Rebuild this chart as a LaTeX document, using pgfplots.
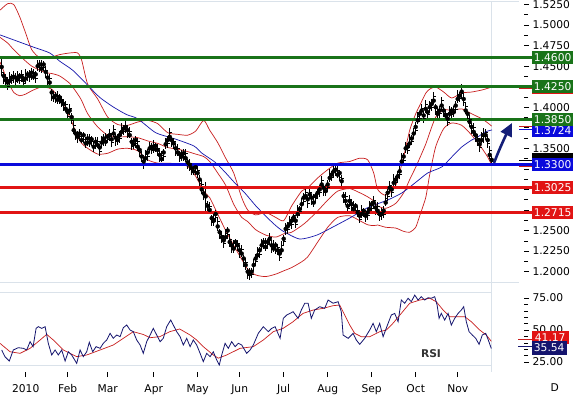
\documentclass[border=0pt]{standalone}
\usepackage{pgfplots}
\usepackage{pgfplotstable}
\pgfplotsset{compat=1.18}
\usepackage{fontspec}
\setmainfont{DejaVu Sans}
\usetikzlibrary{arrows.meta}
\definecolor{lvgreen}{RGB}{25,115,25}
\definecolor{lvblue}{RGB}{10,10,220}
\definecolor{lvred}{RGB}{225,20,20}
\definecolor{bbred}{RGB}{200,30,30}
\definecolor{mablue}{RGB}{20,20,170}
\definecolor{rsinavy}{RGB}{20,20,110}
\definecolor{gridc}{RGB}{218,226,234}
\definecolor{arrowc}{RGB}{20,30,120}
\newcommand{\tf}{\fontsize{10.7}{12}\selectfont}

\pgfplotstableread{
i m up dn c
-12 1.449 0.011 0.011 -0.007
-11 1.438 0.004 0.010 -0.005
-10 1.433 0.008 0.006 0.003
-9 1.430 0.005 0.009 -0.004
-8 1.432 0.011 0.005 0.006
-7 1.436 0.004 0.008 -0.003
-6 1.437 0.007 0.007 0.002
-5 1.436 0.006 0.009 -0.004
-4 1.434 0.010 0.004 0.005
-3 1.438 0.004 0.010 -0.005
-2 1.437 0.008 0.006 0.003
-1 1.433 0.005 0.009 -0.004
0 1.435 0.011 0.005 0.006
1 1.440 0.004 0.008 -0.003
2 1.438 0.007 0.007 0.002
3 1.442 0.006 0.009 -0.004
4 1.437 0.010 0.004 0.005
5 1.440 0.004 0.010 -0.005
6 1.450 0.008 0.006 0.003
7 1.452 0.005 0.009 -0.004
8 1.447 0.011 0.005 0.006
9 1.452 0.004 0.008 -0.003
10 1.443 0.007 0.007 0.002
11 1.436 0.006 0.009 -0.004
12 1.430 0.010 0.004 0.005
13 1.418 0.004 0.010 -0.005
14 1.412 0.008 0.006 0.003
15 1.414 0.005 0.009 -0.004
16 1.409 0.011 0.005 0.006
17 1.412 0.004 0.008 -0.003
18 1.407 0.007 0.007 0.002
19 1.404 0.006 0.009 -0.004
20 1.398 0.010 0.004 0.005
21 1.394 0.004 0.010 -0.005
22 1.396 0.008 0.006 0.003
23 1.388 0.005 0.009 -0.004
24 1.372 0.011 0.005 0.006
25 1.368 0.004 0.008 -0.003
26 1.364 0.007 0.007 0.002
27 1.368 0.006 0.009 -0.004
28 1.360 0.010 0.004 0.005
29 1.366 0.004 0.010 -0.005
30 1.356 0.008 0.006 0.003
31 1.362 0.005 0.009 -0.004
32 1.357 0.011 0.005 0.006
33 1.361 0.004 0.008 -0.003
34 1.352 0.007 0.007 0.002
35 1.358 0.006 0.009 -0.004
36 1.354 0.010 0.004 0.005
37 1.351 0.004 0.010 -0.005
38 1.357 0.008 0.006 0.003
39 1.362 0.005 0.009 -0.004
40 1.358 0.011 0.005 0.006
41 1.364 0.004 0.008 -0.003
42 1.366 0.007 0.007 0.002
43 1.361 0.006 0.009 -0.004
44 1.368 0.010 0.004 0.005
45 1.363 0.004 0.010 -0.005
46 1.360 0.008 0.006 0.003
47 1.366 0.005 0.009 -0.004
48 1.370 0.011 0.005 0.006
49 1.374 0.004 0.008 -0.003
50 1.376 0.007 0.007 0.002
51 1.372 0.006 0.009 -0.004
52 1.366 0.010 0.004 0.005
53 1.358 0.004 0.010 -0.005
54 1.355 0.008 0.006 0.003
55 1.360 0.005 0.009 -0.004
56 1.352 0.011 0.005 0.006
57 1.348 0.004 0.008 -0.003
58 1.340 0.007 0.007 0.002
59 1.334 0.006 0.009 0.002
60 1.338 0.010 0.004 0.005
61 1.345 0.004 0.010 -0.005
62 1.350 0.008 0.006 0.003
63 1.352 0.005 0.009 -0.004
64 1.349 0.011 0.005 0.006
65 1.353 0.004 0.008 -0.003
66 1.348 0.007 0.007 0.002
67 1.342 0.006 0.009 -0.004
68 1.337 0.010 0.004 0.005
69 1.345 0.004 0.010 -0.005
70 1.355 0.008 0.006 0.003
71 1.360 0.005 0.009 -0.004
72 1.364 0.011 0.005 0.006
73 1.360 0.004 0.008 -0.003
74 1.356 0.007 0.007 0.002
75 1.350 0.006 0.009 -0.004
76 1.345 0.010 0.004 0.005
77 1.343 0.004 0.010 -0.005
78 1.340 0.008 0.006 0.003
79 1.344 0.005 0.009 -0.004
80 1.338 0.011 0.005 0.006
81 1.333 0.004 0.008 -0.003
82 1.330 0.007 0.007 0.002
83 1.326 0.006 0.009 -0.004
84 1.322 0.010 0.004 0.005
85 1.327 0.004 0.010 -0.005
86 1.320 0.008 0.006 0.003
87 1.312 0.005 0.009 -0.004
88 1.300 0.011 0.005 0.006
89 1.295 0.004 0.008 -0.003
90 1.2915 0.0175 0.0175 -0.008
91 1.280 0.006 0.009 -0.004
92 1.275 0.010 0.004 0.005
93 1.265 0.004 0.010 -0.005
94 1.262 0.008 0.006 0.003
95 1.270 0.005 0.009 -0.004
96 1.255 0.011 0.005 0.006
97 1.248 0.004 0.008 -0.003
98 1.242 0.007 0.007 0.002
99 1.238 0.006 0.009 -0.004
100 1.242 0.010 0.004 0.005
101 1.250 0.004 0.010 -0.005
102 1.236 0.008 0.006 0.003
103 1.232 0.005 0.009 -0.004
104 1.228 0.011 0.005 0.006
105 1.236 0.004 0.008 -0.003
106 1.232 0.007 0.007 0.002
107 1.226 0.006 0.009 -0.004
108 1.222 0.010 0.004 0.005
109 1.216 0.004 0.010 -0.005
110 1.208 0.008 0.006 0.003
111 1.200 0.005 0.009 -0.004
112 1.197 0.007 0.007 0.003
113 1.200 0.004 0.008 -0.003
114 1.208 0.007 0.007 0.002
115 1.216 0.006 0.009 -0.004
116 1.220 0.010 0.004 0.005
117 1.226 0.004 0.010 -0.005
118 1.232 0.008 0.006 0.003
119 1.236 0.005 0.009 -0.004
120 1.230 0.011 0.005 0.006
121 1.236 0.004 0.008 -0.003
122 1.240 0.007 0.007 0.002
123 1.232 0.006 0.009 -0.004
124 1.228 0.010 0.004 0.005
125 1.232 0.004 0.010 -0.005
126 1.226 0.008 0.006 0.003
127 1.222 0.005 0.009 -0.004
128 1.226 0.011 0.005 0.006
129 1.240 0.004 0.008 -0.003
130 1.252 0.007 0.007 0.002
131 1.255 0.006 0.009 -0.004
132 1.258 0.010 0.004 0.005
133 1.262 0.004 0.010 -0.005
134 1.266 0.008 0.006 0.003
135 1.262 0.005 0.009 -0.004
136 1.270 0.011 0.005 0.006
137 1.276 0.004 0.008 -0.003
138 1.282 0.007 0.007 0.002
139 1.290 0.006 0.009 -0.004
140 1.292 0.010 0.004 0.005
141 1.288 0.004 0.010 -0.005
142 1.294 0.008 0.006 0.003
143 1.290 0.005 0.009 -0.004
144 1.284 0.011 0.005 0.006
145 1.292 0.004 0.008 -0.003
146 1.296 0.007 0.007 0.002
147 1.300 0.006 0.009 -0.004
148 1.306 0.010 0.004 0.005
149 1.302 0.004 0.010 -0.005
150 1.298 0.008 0.006 0.003
151 1.306 0.005 0.009 -0.004
152 1.314 0.011 0.005 0.006
153 1.318 0.004 0.008 -0.003
154 1.322 0.007 0.007 0.002
155 1.324 0.008 0.008 0.002
156 1.318 0.010 0.004 0.005
157 1.320 0.004 0.010 -0.005
158 1.310 0.008 0.006 0.003
159 1.292 0.005 0.009 -0.004
160 1.286 0.011 0.005 0.006
161 1.280 0.004 0.008 -0.003
162 1.286 0.007 0.007 0.002
163 1.282 0.006 0.009 -0.004
164 1.276 0.010 0.004 0.005
165 1.280 0.004 0.010 -0.005
166 1.272 0.008 0.006 0.003
167 1.268 0.005 0.009 -0.004
168 1.270 0.011 0.005 0.006
169 1.274 0.004 0.008 -0.003
170 1.268 0.007 0.007 0.002
171 1.272 0.006 0.009 -0.004
172 1.276 0.010 0.004 0.005
173 1.282 0.004 0.010 -0.005
174 1.284 0.008 0.006 0.003
175 1.278 0.005 0.009 -0.004
176 1.274 0.011 0.005 0.006
177 1.270 0.004 0.008 -0.003
178 1.270 0.007 0.007 0.002
179 1.274 0.006 0.009 -0.004
180 1.284 0.010 0.004 0.005
181 1.296 0.004 0.010 -0.005
182 1.302 0.008 0.006 0.003
183 1.300 0.005 0.009 -0.004
184 1.308 0.011 0.005 0.006
185 1.312 0.004 0.008 -0.003
186 1.316 0.007 0.007 0.002
187 1.322 0.006 0.009 -0.004
188 1.334 0.010 0.004 0.005
189 1.340 0.004 0.010 -0.005
190 1.350 0.008 0.006 0.003
191 1.352 0.005 0.009 -0.004
192 1.356 0.011 0.005 0.006
193 1.362 0.004 0.008 -0.003
194 1.368 0.007 0.007 0.002
195 1.376 0.006 0.009 -0.004
196 1.384 0.010 0.004 0.005
197 1.392 0.004 0.010 -0.005
198 1.396 0.008 0.006 0.003
199 1.390 0.005 0.009 -0.004
200 1.398 0.011 0.005 0.006
201 1.394 0.004 0.008 -0.003
202 1.400 0.007 0.007 0.002
203 1.404 0.006 0.009 -0.004
204 1.408 0.010 0.004 0.005
205 1.400 0.004 0.010 -0.005
206 1.392 0.008 0.006 0.003
207 1.396 0.005 0.009 -0.004
208 1.402 0.011 0.005 0.006
209 1.396 0.004 0.008 -0.003
210 1.390 0.007 0.007 0.002
211 1.386 0.006 0.009 -0.004
212 1.392 0.010 0.004 0.005
213 1.396 0.004 0.010 -0.005
214 1.394 0.008 0.006 0.003
215 1.402 0.005 0.009 -0.004
216 1.410 0.011 0.005 0.006
217 1.414 0.004 0.008 -0.003
218 1.419 0.009 0.009 -0.002
219 1.410 0.006 0.009 -0.004
220 1.396 0.010 0.004 0.005
221 1.392 0.004 0.010 -0.005
222 1.382 0.008 0.006 0.003
223 1.376 0.005 0.009 -0.004
224 1.370 0.011 0.005 0.006
225 1.366 0.004 0.008 -0.003
226 1.360 0.007 0.007 0.002
227 1.355 0.006 0.009 -0.004
228 1.360 0.010 0.004 0.005
229 1.366 0.009 0.009 -0.002
230 1.366 0.008 0.006 0.003
231 1.360 0.005 0.009 -0.004
232 1.342 0.011 0.005 0.006
233 1.336 0.005 0.006 -0.002
}\bars

\pgfplotstableread{
i U M L
-12.85 1.518 1.485 1.455
-9 1.526 1.478 1.432
-6 1.525 1.470 1.418
-3 1.510 1.463 1.414
0 1.490 1.456 1.416
3 1.470 1.450 1.420
7 1.460 1.445 1.424
10 1.461 1.442 1.424
13 1.461 1.441 1.422
17 1.464 1.438 1.410
22 1.466 1.429 1.388
26 1.466 1.416 1.364
28 1.457 1.408 1.356
31 1.428 1.392 1.350
36 1.410 1.376 1.343
41 1.388 1.366 1.344
46 1.379 1.364 1.349
51 1.378 1.364 1.350
56 1.382 1.363 1.347
61 1.384 1.359 1.336
66 1.380 1.356 1.332
71 1.369 1.351 1.332
76 1.367 1.349 1.331
81 1.366 1.346 1.328
85 1.371 1.343 1.316
89 1.384 1.340 1.298
92 1.372 1.334 1.290
96 1.357 1.320 1.270
100 1.338 1.305 1.250
104 1.320 1.282 1.232
108 1.290 1.266 1.215
111 1.275 1.261 1.203
115 1.269 1.251 1.196
120 1.272 1.2445 1.194
125 1.266 1.242 1.197
129 1.262 1.246 1.201
133 1.280 1.248 1.205
138 1.298 1.256 1.212
141 1.302 1.262 1.218
146 1.314 1.274 1.236
151 1.324 1.287 1.254
156 1.332 1.298 1.266
162 1.334 1.301 1.268
167 1.338 1.296 1.262
171 1.336 1.291 1.257
174 1.320 1.286 1.256
176 1.300 1.280 1.2567
180 1.293 1.277 1.254
185 1.305 1.283 1.253
189 1.340 1.296 1.249
192 1.372 1.312 1.248
195 1.392 1.327 1.254
197 1.402 1.338 1.268
200 1.417 1.355 1.290
202 1.422 1.369 1.318
205 1.4246 1.388 1.352
209 1.4185 1.397 1.374
213 1.4112 1.396 1.3808
218 1.4173 1.398 1.378
223 1.4185 1.392 1.366
228 1.4209 1.386 1.3504
231 1.423 1.381 1.3394
233 1.4246 1.377 1.3297
}\bands

\pgfplotstableread{
i v
-12.85 1.488
3.65 1.4733
12 1.466
17 1.456
23.5 1.445
30.5 1.428
37 1.412
44 1.400
50.5 1.391
56 1.386
65 1.369
74 1.362
84 1.353
88 1.3443
94.6 1.3333
99.6 1.3212
104.6 1.3078
109.6 1.2956
115.6 1.2786
123.6 1.2591
128.6 1.2494
137 1.2397
145.6 1.2445
153.6 1.2543
162 1.2652
170.6 1.2774
177 1.2835
181 1.2871
188 1.2956
194.6 1.3078
201 1.3200
208 1.3273
213 1.3394
218 1.3516
223 1.3601
226 1.3638
229.6 1.3698
233.15 1.3724
}\ma

\pgfplotstableread{
i v
-12 34.4
-10.4 29.2
-8.2 25.8
-6.2 34.4
-3.7 36.2
-1.2 35.7
0.5 34.4
2.2 40.9
3.7 37
5.2 51.3
6.3 52.6
8 51.3
9.7 52.6
11.3 39.6
13 30.5
14.7 34.4
16.3 30.5
18 34.4
19.7 25.8
21.3 33
23 30.5
25.5 24
27.2 34.4
28.8 29.2
30.5 33
31.8 40.4
33.5 33
35.2 37
37.2 35.7
38.8 39.6
40.5 42.2
42.2 47.4
43.8 43.5
45.5 46.1
47.2 44.8
48.8 51.8
50.5 53.9
52.2 50
53.8 48.7
55.5 42.2
57.2 38.3
58.8 31.8
60.5 40.9
62.2 46.1
63.8 51.3
65.5 46.1
67.2 40.9
68.8 43.5
70.5 52.6
72.5 57.8
73.8 53.9
75.5 48.7
77.2 44.8
78.8 38.3
80.5 43.5
82.2 37
83.8 42.2
85.5 38.3
87.2 31.8
88.8 25.3
90.5 31.8
92.2 29.2
93.8 33
95.5 26.6
96.8 22.7
98 30.5
99.7 39.6
101.3 35.7
103 40.9
104.7 37
106.3 39.6
108 38.3
110.5 31.8
112.2 34.4
113.8 38.3
116.3 47.4
118.8 52.6
121.3 48.7
123 51.3
124.7 52.6
127.2 43.5
128.8 59.1
130.5 61.7
132.2 63
133.7 64.3
136.2 59.1
137.8 65.6
139.5 70.9
141.2 70.9
142.8 59.1
144.5 65.6
147 68.2
149.5 66.9
151.2 73.4
153.7 70.9
156.2 72.1
157.8 64.3
158.7 46.1
161.2 43.5
163.7 47.4
165.3 42.2
167 38.8
169.5 43.5
172 50
173.7 55.2
175.3 48.7
177 55.2
178.7 44.8
181.2 55.2
182.8 61.7
184.5 63
186.2 56.5
187.8 73.4
189.5 70.9
191.2 74.8
192.8 72.1
194.5 77.3
196.2 73.4
197.8 76
199.5 73.4
201.2 75.2
202.8 74.8
204.5 76
205.7 69.5
206.7 59.1
207.8 63
209.5 57.8
211.2 63
212.8 53.9
214.5 59.1
216.2 63
217.8 65.6
219 68.2
220.3 56.5
221.7 48.7
223.3 46.1
225 43.5
226.7 38.8
228.3 46.1
230 47.4
231.3 42.2
232.8 35.54
}\rsi

\pgfplotstableread{
i v
-12.85 39.6
-7.8 33
-2.8 31.8
2.2 35.7
7.2 42.2
10.5 46.6
13.8 42.2
18.8 34.4
25.5 29.2
30.5 30.5
37.2 34.4
43.8 38.3
48.8 43.5
53.8 48.7
58.8 46.5
62.2 44
67 44.8
72 48.7
77 50.8
82.2 46.1
85.5 42.2
88.8 37
93.8 30.5
96.3 28
100.5 30.5
107.2 35.7
113.8 37
118.8 42.2
123.8 48.7
128.7 51.3
133.7 56.5
138.7 63
143.7 65.6
148.7 66.9
153.7 69
157 69.5
159.5 61.7
162 53.9
164.5 47.4
167.8 44.8
172 44.8
177 48.7
180.3 50
183.6 55.2
187.8 63
192 70.9
197 73.4
202 74.8
205.3 72.1
208.7 65.6
212 60.4
215.3 60.4
219.5 60.4
222.8 56.5
227 50
230.3 46.1
232.8 41.17
}\rsisig

\begin{document}
\begin{tikzpicture}
\useasboundingbox (0pt,0pt) rectangle (573pt,-395pt);
\fill[white] (0pt,0pt) rectangle (573pt,-395pt);
% light panel frames
\draw[gridc, line width=1pt] (0pt,-2pt) -- (519pt,-2pt);
\draw[gridc, line width=1pt] (0pt,-283pt) -- (519pt,-283pt);
\draw[gridc, line width=1pt] (491pt,-2pt) -- (491pt,-372pt);
\draw[gridc, line width=1pt] (0pt,-293pt) -- (491pt,-293pt);
\draw[gridc, line width=1pt] (0pt,-365pt) -- (491pt,-365pt);

% ---------------- price panel
\begin{axis}[
  at={(0pt,-283pt)}, anchor=south west, scale only axis,
  width=519pt, height=281pt,
  xmin=-12.85, xmax=246.65, ymin=1.1862, ymax=1.528,
  clip=false,
  axis line style={draw=none},
  xtick=\empty,
  ytick={1.2,1.225,1.25,1.275,1.3,1.325,1.35,1.375,1.4,1.425,1.45,1.475,1.5,1.525},
  yticklabels={1.2000,1.2250,1.2500,,,,1.3500,,1.4000,,1.4500,1.4750,1.5000,1.5250},
  minor y tick num=1,
  ytick pos=right, yticklabel pos=right,
  tick align=outside,
  major tick length=5pt, minor tick length=4pt,
  y tick style={black, line width=0.6pt, xshift=5pt},
  yticklabel style={font=\tf, xshift=5pt},
]
\addplot[bbred, line width=0.7pt, smooth, tension=0.4] table[x=i,y=U] {\bands};
\addplot[bbred, line width=0.7pt, smooth, tension=0.4] table[x=i,y=M] {\bands};
\addplot[bbred, line width=0.7pt, smooth, tension=0.4] table[x=i,y=L] {\bands};
\addplot[mablue, line width=0.7pt, smooth, tension=0.4] table[x=i,y=v] {\ma};
\addplot[only marks, mark=none,
  error bars/.cd, y dir=both, y explicit, error mark=none,
  error bar style={draw=black, solid, line width=0.8pt}]
  table[x=i, y=m, y error plus=up, y error minus=dn] {\bars};
\addplot[only marks, mark=-, mark size=1.2pt,
  mark options={black, line width=0.7pt, xshift=0.8pt}]
  table[x=i, y expr=\thisrow{m}+\thisrow{c}] {\bars};
% support / resistance levels
\addplot[lvgreen, line width=2.8pt] coordinates {(-12.85,1.4600) (253,1.4600)};
\addplot[lvgreen, line width=2.8pt] coordinates {(-12.85,1.4250) (253,1.4250)};
\addplot[lvgreen, line width=2.8pt] coordinates {(-12.85,1.3850) (253,1.3850)};
\addplot[lvblue, line width=2.8pt] coordinates {(-12.85,1.3300) (253,1.3300)};
\addplot[lvred, line width=2.8pt] coordinates {(-12.85,1.3025) (253,1.3025)};
\addplot[lvred, line width=2.8pt] coordinates {(-12.85,1.2715) (253,1.2715)};
\end{axis}

% ---------------- RSI panel
\begin{axis}[
  at={(0pt,-366pt)}, anchor=south west, scale only axis,
  width=519pt, height=73pt,
  xmin=-12.85, xmax=246.65, ymin=21.9, ymax=78.9,
  clip=false,
  axis line style={draw=none},
  xtick={0,21,41,64,86,107,129,151,173,195,216},
  xticklabels={2010,Feb,Mar,Apr,May,Jun,Jul,Aug,Sep,Oct,Nov},
  xtick pos=bottom,
  ytick={25,50,75},
  minor y tick num=4,
  ytick pos=right, yticklabel pos=right,
  tick align=outside,
  major tick length=5pt, minor tick length=4pt,
  y tick style={black, line width=0.6pt, xshift=5pt},
  x tick style={black, line width=0.6pt, yshift=-6pt},
  xticklabel style={font=\tf, yshift=-10pt},
  yticklabel style={font=\tf, xshift=5pt, /pgf/number format/.cd, fixed, fixed zerofill, precision=2, assume math mode=true},
]
\addplot[bbred, line width=0.7pt] table[x=i,y=v] {\rsisig};
\addplot[rsinavy, line width=0.8pt] table[x=i,y=v] {\rsi};
\end{axis}

% ---------------- value tags (indicator tags behind, level tags in front)
\tikzset{tag/.style={text=white, font=\tf, minimum height=13pt, minimum width=42pt, inner sep=0pt, anchor=west}}
\draw[bbred, line width=1pt] (519pt,-89pt) -- (531.5pt,-89pt);
\node[tag, fill=lvred] at (531.5pt,-88pt) {};
\draw[bbred, line width=1pt] (519pt,-126.5pt) -- (531.5pt,-126.5pt);
\node[tag, fill=lvred] at (531.5pt,-126pt) {};
\draw[lvblue, line width=1pt] (519pt,-130pt) -- (531.5pt,-130pt);
\node[tag, fill=lvblue] at (531.5pt,-130.5pt) {1.3724};
\draw[black, line width=1pt] (519pt,-160.7pt) -- (531.5pt,-160.7pt);
\node[tag, fill=black] at (531.5pt,-160pt) {};
\draw[bbred, line width=1pt] (519pt,-166.7pt) -- (531.5pt,-166.7pt);
\node[tag, fill=lvgreen] at (531.5pt,-57.9pt) {1.4600};
\node[tag, fill=lvgreen] at (531.5pt,-86.7pt) {1.4250};
\node[tag, fill=lvgreen] at (531.5pt,-119.6pt) {1.3850};
\node[tag, fill=lvblue] at (531.5pt,-164.8pt) {1.3300};
\node[tag, fill=lvred] at (531.5pt,-187.4pt) {1.3025};
\node[tag, fill=lvred] at (531.5pt,-212.9pt) {1.2715};
% RSI tags
\draw[bbred, line width=1pt] (518pt,-339.3pt) -- (531.5pt,-339.3pt);
\node[tag, fill=lvred, minimum width=37pt] at (531.5pt,-337.5pt) {41.17};
\draw[rsinavy, line width=1pt] (518pt,-346.7pt) -- (531.5pt,-346.7pt);
\node[tag, fill=rsinavy, minimum width=35pt] at (531.5pt,-348pt) {35.54};

% arrow
\draw[arrowc, line width=2.6pt, -{Triangle[length=13pt, width=12pt]}]
  (494pt,-163pt) .. controls (499pt,-150pt) and (504pt,-139pt) .. (512pt,-123pt);

\node[font=\tf\bfseries, text=black!80] at (431pt,-353.5pt) {RSI};
\node[font=\tf] at (554.7pt,-387.7pt) {D};
\end{tikzpicture}
\end{document}
